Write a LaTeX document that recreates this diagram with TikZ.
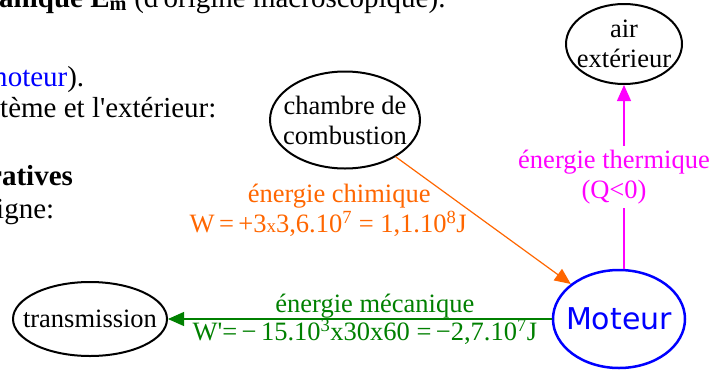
\documentclass[tikz,border=0pt]{standalone}
\usepackage{fontspec}
\setmainfont{Liberation Serif}[Ligatures=TeXOff]
\newfontfamily\motfont{DejaVu Sans}
\usetikzlibrary{shapes.geometric,arrows.meta}

\definecolor{orangechim}{RGB}{255,102,0}
\definecolor{vertmeca}{RGB}{0,128,0}
\definecolor{magentath}{RGB}{255,0,255}

\begin{document}
\begin{tikzpicture}[
    x=1pt,
    y=-1pt,
    line cap=round,
    line join=round,
    corps/.style={
        anchor=base west,
        inner sep=0pt,
        font=\fontsize{29}{33}\selectfont
    },
    bulle/.style={
        ellipse,
        draw,
        line width=2pt,
        inner sep=0pt
    },
    bulletxt/.style={
        align=center,
        inner sep=0pt,
        font=\fontsize{26.5}{30}\selectfont
    },
    etiquette/.style={
        align=center,
        inner sep=0pt,
        font=\fontsize{26.5}{30}\selectfont
    },
    fleche/.style={
        line width=1.2pt,
        -{Triangle[length=16pt,width=14pt]}
    }
]
    % Page frame (the text on the left is cut by it)
    \clip (0,0) rectangle (725,370);

    % Body text of the page
    \node[corps] (ligneA) at (-1,7)
        {\textbf{anique E}\textsubscript{\textbf{m}} (d'origine macroscopique).};
    \node[corps] (ligneB) at (-15,86) {\textcolor{blue}{moteur}).};
    \node[corps] (ligneC) at (0,117) {tème et l'extérieur:};
    \node[corps] (ligneD) at (-11,185) {\textbf{ratives}};
    \node[corps] (ligneE) at (-4,218) {igne:};

    % Systems
    \node[bulle, minimum width=150, minimum height=97,
        label={[bulletxt]center:{chambre de\\combustion}}] (chambre) at (345,120) {};
    \node[bulle, minimum width=116, minimum height=80,
        label={[bulletxt]center:{air\\extérieur}}] (air) at (624,44) {};
    \node[bulle, draw=blue, line width=2.5pt, minimum width=132, minimum height=98,
        label={[bulletxt, text=blue, font=\motfont\fontsize{30}{30}\selectfont]center:Moteur}] (moteur) at (619,319) {};
    \node[bulle, minimum width=154, minimum height=74,
        label={[bulletxt]center:transmission}] (transm) at (90,319) {};

    % Energy transfers
    \draw[fleche, orangechim] (chambre) -- (moteur)
        node[etiquette, midway, anchor=east, xshift=-16pt, yshift=10pt]
        {\hspace*{22pt}énergie chimique\\W\,=\,+3{\fontsize{19}{19}\selectfont x}3,6.10\textsuperscript{7} = 1,1.10\textsuperscript{8}J};

    \draw[fleche, vertmeca] (moteur) -- (transm)
        node[etiquette, midway, above, xshift=15pt] {énergie mécanique}
        node[etiquette, midway, below, xshift=5pt]
        {W'=\,−\,15.10\textsuperscript{3}x30x60 =\,−2,7.10\textsuperscript{7}J};

    \draw[fleche, magentath] (moteur.north -| air.south) -- (air.south)
        node[etiquette, midway, fill=white, inner sep=4pt, xshift=-10pt]
        {énergie thermique\\(Q<0)};
\end{tikzpicture}
\end{document}
